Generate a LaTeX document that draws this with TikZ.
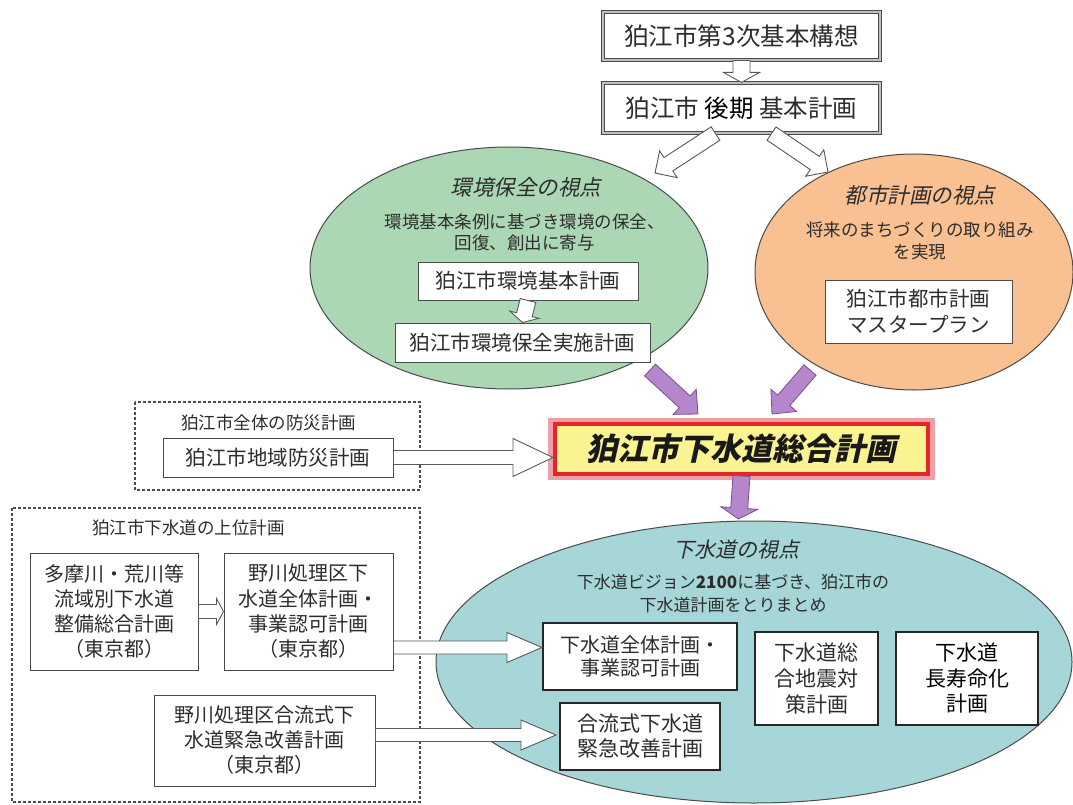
\documentclass[tikz,border=0pt]{standalone}
\usepackage{fontspec}
\setmainfont{Noto Sans CJK JP}
\newfontfamily\cjksl[FakeSlant=0.22]{Noto Sans CJK JP}
\usetikzlibrary{calc,shapes.geometric}
\definecolor{txt}{RGB}{45,45,45}
\definecolor{edge}{RGB}{75,75,75}
\definecolor{greenc}{RGB}{172,215,180}
\definecolor{orangec}{RGB}{249,192,145}
\definecolor{bluec}{RGB}{166,214,216}
\definecolor{purp}{RGB}{182,134,204}
\definecolor{purpd}{RGB}{120,80,140}
\definecolor{yellowc}{RGB}{250,243,145}
\definecolor{redc}{RGB}{228,38,38}
\definecolor{pinkc}{RGB}{238,160,170}
\newcommand{\fsz}[2]{\fontsize{#1}{#2}\selectfont}
% hollow / filled block arrow: [style]{from}{to}{half shaft}{half head}{head length}  (numbers in pt)
\newcommand{\harrow}[6][]{%
  \coordinate (hb) at ($(#3)!#6pt!(#2)$);
  \draw[#1] ($(#2)!#4pt!90:(#3)$) -- ($(hb)!#4pt!90:(#3)$) -- ($(hb)!#5pt!90:(#3)$) -- (#3)
    -- ($(hb)!#5pt!-90:(#3)$) -- ($(hb)!#4pt!-90:(#3)$) -- ($(#2)!#4pt!-90:(#3)$) -- cycle;
}
\begin{document}
\begin{tikzpicture}[x=1pt,y=-1pt,
  box/.style={draw=edge, line width=1pt, fill=white, inner sep=0pt, align=center, text=txt},
  bbox/.style={draw=black!85, line width=2pt, fill=white, inner sep=0pt, align=center, text=txt},
  dbox/.style={draw=edge, line width=1.1pt, double=black!25, double distance=2.2pt, fill=white, inner sep=0pt, align=center, text=txt},
  lbl/.style={inner sep=0pt, align=center, text=txt},
  hollow/.style={fill=white, draw=black!65, line width=0.9pt, line join=miter},
  parrow/.style={fill=purp, draw=purpd, line width=0.8pt, line join=miter},
  dashbox/.style={draw=black!70, line width=1.2pt, dash pattern=on 3pt off 2pt},
  ell/.style={ellipse, draw=edge, line width=1pt, inner sep=0pt}
]
\fill[white] (0,0) rectangle (1073,805);
\useasboundingbox (0,0) rectangle (1073,805);

% top boxes
\node[dbox, minimum width=277, minimum height=48, font=\fsz{24.5}{28}] (b1) at (741.5,36) {狛江市第3次基本構想};
\node[dbox, minimum width=277, minimum height=50, font=\fsz{24.5}{28}] (b2) at (741.5,108) {狛江市\ \textcolor{black}{後期}\ 基本計画};
\harrow[hollow]{b1.south}{b2.north}{8.5}{18}{10}

% ellipses
\node[ell, fill=greenc, minimum width=398, minimum height=242] (green) at (509,268) {};
\node[ell, fill=orangec, minimum width=318, minimum height=236] (orange) at (914,272) {};

\coordinate (b2l) at ($(b2.south)+(-26,0)$);
\coordinate (b2r) at ($(b2.south)+(30,0)$);
\coordinate (gtip) at (655,173);
\coordinate (otip) at (828,172);
\harrow[hollow]{b2l}{gtip}{8}{16}{16}
\harrow[hollow]{b2r}{otip}{8}{16}{16}

% green content
\node[lbl, font=\cjksl\fsz{21.5}{24}] (gt) at (526,187) {環境保全の視点};
\node[lbl, font=\fsz{17.5}{21}] (gs) at (524.5,232) {環境基本条例に基づき環境の保全、\\回復、創出に寄与};
\node[box, minimum width=220, minimum height=38, font=\fsz{20.5}{24}] (g1) at (528,281) {狛江市環境基本計画};
\node[box, minimum width=255, minimum height=39, font=\fsz{20.5}{24}] (g2) at (522.5,342.5) {狛江市環境保全実施計画};
\harrow[hollow]{g1.south}{g2.north}{8}{15}{8}

% orange content
\node[lbl, font=\cjksl\fsz{21.5}{24}] (ot) at (920,195) {都市計画の視点};
\node[lbl, font=\fsz{17.5}{22}] (os) at (920,241) {将来のまちづくりの取り組み\\を実現};
\node[box, minimum width=187, minimum height=63, font=\fsz{20.5}{26}] (o1) at (918.5,311.5) {狛江市都市計画\\マスタープラン};

% main box
\fill[pinkc] (548,418) rectangle (935,480);
\node[draw=redc, line width=4pt, fill=yellowc, minimum width=373, minimum height=50, inner sep=0pt, text=black!90,
  font=\cjksl\bfseries\fsz{31}{34}] (main) at (741.5,449) {狛江市下水道総合計画};

% purple arrows into main
\coordinate (pl1) at (650,370);
\coordinate (pl2) at (698,414);
\coordinate (pr1) at (810,370);
\coordinate (pr2) at (772,414);
\harrow[parrow]{pl1}{pl2}{8}{17}{18}
\harrow[parrow]{pr1}{pr2}{8}{17}{18}

% disaster plan group
\draw[dashbox] (135,402) rectangle (420,490);
\node[lbl, font=\fsz{17.5}{20}] (dl) at (268.5,423) {狛江市全体の防災計画};
\node[box, minimum width=230, minimum height=39, font=\fsz{20.5}{24}] (d1) at (278,457.5) {狛江市地域防災計画};
\coordinate (mw) at (main.west |- d1.east);
\harrow[hollow]{d1.east}{mw}{7}{19}{40}

% blue ellipse
\node[ell, fill=bluec, minimum width=636, minimum height=282] (blue) at (754,662) {};
\coordinate (btip) at (738.5,519);
\harrow[parrow]{main.south}{btip}{8.5}{18.5}{11}

% upper sewer plans group
\draw[dashbox] (12,508) rectangle (420,802);
\node[lbl, font=\fsz{17.5}{20}] (ul) at (188.5,528) {狛江市下水道の上位計画};
\node[box, minimum width=168, minimum height=117, font=\fsz{20}{25.3}] (bA) at (114,611.5) {多摩川・荒川等\\流域別下水道\\整備総合計画\\（東京都）};
\node[box, minimum width=169, minimum height=117, font=\fsz{20}{25.3}] (bB) at (308.5,611.5) {野川処理区下\\水道全体計画・\\事業認可計画\\（東京都）};
\node[box, minimum width=221, minimum height=91, font=\fsz{20}{25}] (bC) at (264.5,740.5) {野川処理区合流式下\\水道緊急改善計画\\（東京都）};
\harrow[hollow]{bA.east}{bB.west}{7}{13}{7}

% blue content
\node[lbl, font=\cjksl\fsz{21}{24}] (bt) at (736.5,550) {下水道の視点};
\node[lbl, font=\fsz{17}{23}] (bs) at (733,593.5) {下水道ビジョン{\bfseries 2100}に基づき、狛江市の\\下水道計画をとりまとめ};
\node[bbox, minimum width=194, minimum height=67, font=\fsz{20}{23.5}] (bD) at (640,656.5) {下水道全体計画・\\事業認可計画};
\node[bbox, minimum width=160, minimum height=67, font=\fsz{21}{25}] (bE) at (640,736.5) {合流式下水道\\緊急改善計画};
\node[bbox, minimum width=123, minimum height=93, font=\fsz{21}{26}] (bF) at (816.5,678.5) {下水道総\\合地震対\\策計画};
\node[bbox, minimum width=142, minimum height=93, font=\fsz{21}{25.5}, text=black] (bG) at (967,678.5) {下水道\\長寿命化\\計画};

\coordinate (dtip) at ($(bD.west)+(0,-9)$);
\coordinate (bBo) at (bB.east |- dtip);
\harrow[hollow]{bBo}{dtip}{6.5}{15}{35}
\coordinate (etip) at ($(bE.west)+(-3,-1.5)$);
\coordinate (bCo) at (bC.east |- etip);
\harrow[hollow]{bCo}{etip}{6.5}{15}{35}
\end{tikzpicture}
\end{document}
